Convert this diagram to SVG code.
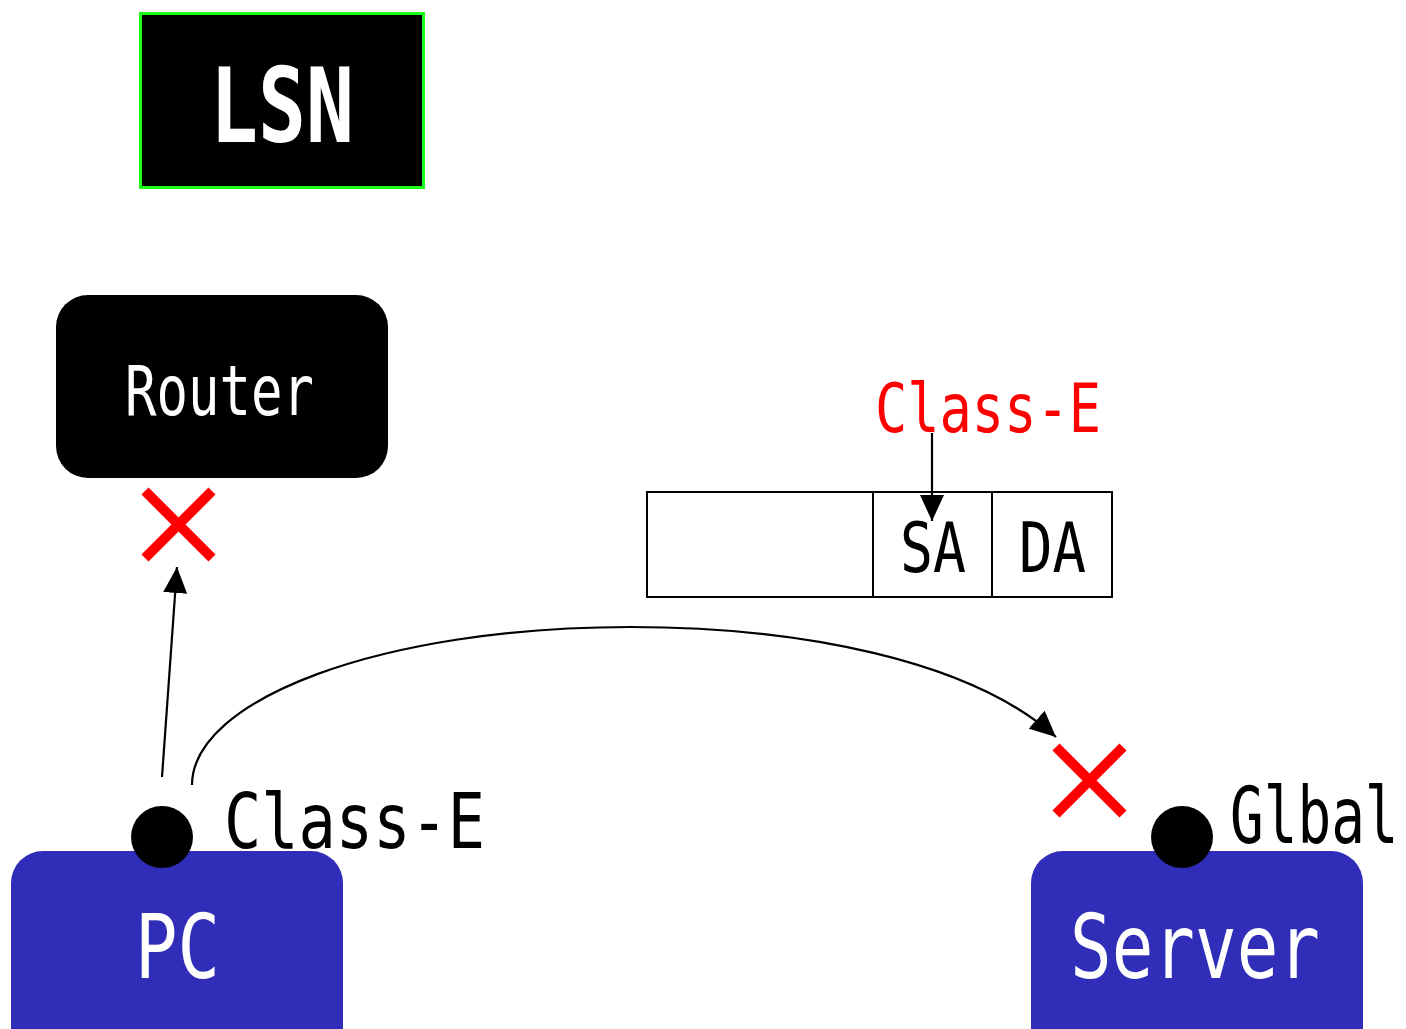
<svg xmlns="http://www.w3.org/2000/svg" width="1406" height="1029" viewBox="0 0 1406 1029">
  <style>
    .lbl { font-family: "DejaVu Sans Mono", "Liberation Mono", monospace; }
    .white { fill: #ffffff; }
    .black { fill: #000000; }
    .red { fill: #ff0000; }
    .host { fill: #302eb8; }
    .dot { fill: #000000; }
    .cross { stroke: #ff0000; stroke-width: 10; fill: none; }
    .wire { stroke: #000000; stroke-width: 2.2; fill: none; }
    .cell { fill: #ffffff; stroke: #000000; stroke-width: 2; }
  </style>
  <defs>
    <marker id="arrow" markerUnits="userSpaceOnUse" markerWidth="26" markerHeight="24" refX="26" refY="12" orient="auto">
      <path d="M0,0 L26,12 L0,24 z" fill="#000000"/>
    </marker>
  </defs>

  <rect width="1406" height="1029" fill="#ffffff"/>

  <!-- LSN title box -->
  <g id="lsn">
    <rect x="140.5" y="13.5" width="283" height="174" fill="#000000" stroke="#1aff1a" stroke-width="3"/>
    <text class="lbl white" x="210" y="142" font-size="103" font-weight="bold" textLength="144" lengthAdjust="spacingAndGlyphs">LSN</text>
  </g>

  <!-- Router -->
  <g id="router">
    <rect x="56" y="295" width="332" height="183" rx="32" fill="#000000"/>
    <text class="lbl white" x="125" y="415" font-size="69" textLength="189" lengthAdjust="spacingAndGlyphs">Router</text>
  </g>

  <!-- blocked marks -->
  <g id="block-router">
    <path class="cross" d="M145,491 L212,558 M212,491 L145,558"/>
  </g>
  <g id="block-server">
    <path class="cross" d="M1056,747 L1123,814 M1123,747 L1056,814"/>
  </g>

  <!-- packet header -->
  <g id="packet">
    <rect class="cell" x="647" y="492" width="226" height="105"/>
    <rect class="cell" x="873" y="492" width="119" height="105"/>
    <rect class="cell" x="992" y="492" width="120" height="105"/>
    <text class="lbl black" x="900" y="572" font-size="69" textLength="66" lengthAdjust="spacingAndGlyphs">SA</text>
    <text class="lbl black" x="1019" y="572" font-size="69" textLength="67" lengthAdjust="spacingAndGlyphs">DA</text>
  </g>

  <g id="sa-note">
    <text class="lbl red" x="875" y="432" font-size="67" textLength="226" lengthAdjust="spacingAndGlyphs">Class-E</text>
  </g>

  <!-- PC host -->
  <g id="pc">
    <rect class="host" x="11" y="851" width="332" height="220" rx="32"/>
    <circle class="dot" cx="162" cy="837" r="31"/>
    <text class="lbl white" x="135" y="978" font-size="89" textLength="85" lengthAdjust="spacingAndGlyphs">PC</text>
    <text class="lbl black" x="224" y="848" font-size="77" textLength="261" lengthAdjust="spacingAndGlyphs">Class-E</text>
  </g>

  <!-- Server host -->
  <g id="server">
    <rect class="host" x="1031" y="851" width="332" height="220" rx="32"/>
    <circle class="dot" cx="1182" cy="837" r="31"/>
    <text class="lbl white" x="1070" y="978" font-size="89" textLength="250" lengthAdjust="spacingAndGlyphs">Server</text>
    <!-- narrow label near the right edge: tall glyphs via vertical stretch -->
    <text class="lbl black" transform="translate(1230,843) scale(1,1.39)" font-size="56">Glbal</text>
  </g>

  <!-- connectors -->
  <g id="connectors">
    <path class="wire" d="M162,777 L177,567" marker-end="url(#arrow)"/>
    <path class="wire" d="M192,785 C192,700 380,627 630,627 C800,627 970,660 1056,737" marker-end="url(#arrow)"/>
    <path class="wire" d="M932,433 L932,521" marker-end="url(#arrow)"/>
  </g>
</svg>
